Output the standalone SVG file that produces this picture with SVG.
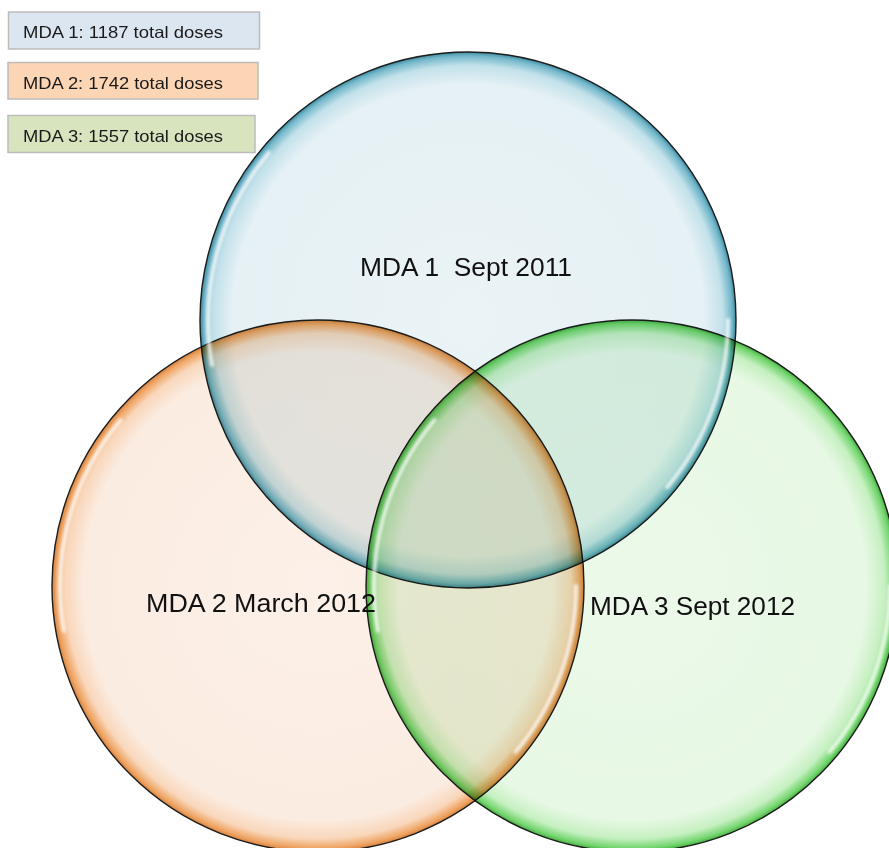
<svg xmlns="http://www.w3.org/2000/svg" width="889" height="848" viewBox="0 0 889 848">
<style>
.lg{stroke:#bcbcbc;stroke-width:1.5}
.lt{font-family:"Liberation Sans",Arial,sans-serif;font-size:16.5px;fill:#1a1a1a}
.ct{font-family:"Liberation Sans",Arial,sans-serif;font-size:26px;fill:#111}
.ring{stroke:#1c1c1c;stroke-width:1.4}
.hl{fill:none;stroke:#ffffff;stroke-width:4;stroke-linecap:round;opacity:0.8;filter:url(#blur)}
.mul{mix-blend-mode:multiply}
</style>
<defs>
<filter id="blur" x="-20%" y="-20%" width="140%" height="140%"><feGaussianBlur stdDeviation="1.8"/></filter>
<radialGradient id="gB" cx="50%" cy="50%" r="50%">
<stop offset="0" stop-color="#eaf3f6"/>
<stop offset="0.88" stop-color="#e6f1f5"/>
<stop offset="0.95" stop-color="#c2e1ea"/>
<stop offset="0.985" stop-color="#73b7ca"/>
<stop offset="1" stop-color="#3e8aa0"/>
</radialGradient>
<radialGradient id="gO" cx="50%" cy="50%" r="50%">
<stop offset="0" stop-color="#fcf0e8"/>
<stop offset="0.88" stop-color="#fbece1"/>
<stop offset="0.95" stop-color="#f9d7bb"/>
<stop offset="0.985" stop-color="#efa463"/>
<stop offset="1" stop-color="#d7823e"/>
</radialGradient>
<radialGradient id="gG" cx="50%" cy="50%" r="50%">
<stop offset="0" stop-color="#ecf9ea"/>
<stop offset="0.88" stop-color="#e7f8e4"/>
<stop offset="0.95" stop-color="#c6f0c1"/>
<stop offset="0.985" stop-color="#74d66f"/>
<stop offset="1" stop-color="#46b041"/>
</radialGradient>
</defs>
<g id="legend">
<g id="legend-mda1"><rect class="lg" x="8.5" y="12" width="251" height="37" fill="#dce6f1"/><text class="lt" x="23" y="37.5" textLength="200" lengthAdjust="spacingAndGlyphs">MDA 1: 1187 total doses</text></g>
<g id="legend-mda2"><rect class="lg" x="8" y="62.5" width="250" height="36.5" fill="#fcd5b5"/><text class="lt" x="23" y="88.5" textLength="200" lengthAdjust="spacingAndGlyphs">MDA 2: 1742 total doses</text></g>
<g id="legend-mda3"><rect class="lg" x="8" y="115.5" width="247" height="37" fill="#d7e4bd"/><text class="lt" x="23" y="141.5" textLength="200" lengthAdjust="spacingAndGlyphs">MDA 3: 1557 total doses</text></g>
</g>
<g id="mda1" class="mul"><circle class="ring" cx="468" cy="320" r="268" fill="url(#gB)"/></g>
<g id="mda2" class="mul"><circle class="ring" cx="318" cy="586" r="266" fill="url(#gO)"/></g>
<g id="mda3" class="mul"><circle class="ring" cx="632" cy="586" r="266" fill="url(#gG)"/></g>
<g id="highlights">
<path class="hl" d="M212,365.1 A260,260 0 0 1 268.8,152.9"/>
<path class="hl" d="M728,320 A260,260 0 0 1 667.2,487.1"/>
<path class="hl" d="M63.9,630.8 A258,258 0 0 1 120.4,420.2"/>
<path class="hl" d="M576,586 A258,258 0 0 1 515.6,751.8"/>
<path class="hl" d="M377.9,630.8 A258,258 0 0 1 434.4,420.2"/>
<path class="hl" d="M890,586 A258,258 0 0 1 829.6,751.8"/>
</g>
<g id="labels">
<text class="ct" x="360" y="276" textLength="212" lengthAdjust="spacingAndGlyphs" xml:space="preserve">MDA 1  Sept 2011</text>
<text class="ct" x="146" y="612" textLength="230" lengthAdjust="spacingAndGlyphs">MDA 2 March 2012</text>
<text class="ct" x="590" y="615" textLength="205" lengthAdjust="spacingAndGlyphs">MDA 3 Sept 2012</text>
</g>
</svg>
